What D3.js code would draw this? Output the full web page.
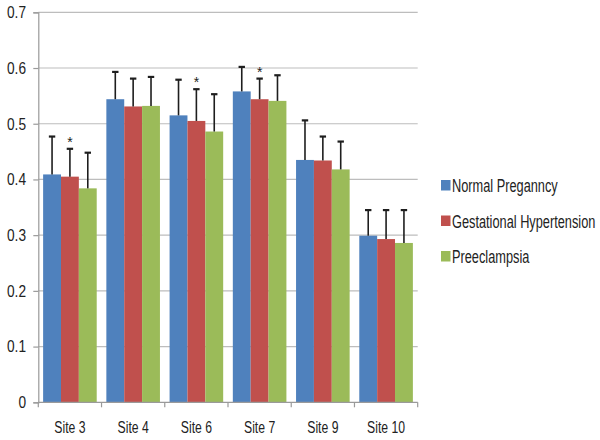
<!DOCTYPE html>
<html>
<head>
<meta charset="utf-8">
<script src="https://cdn.jsdelivr.net/npm/d3@7"></script>
<style>
html,body{margin:0;padding:0;background:#fff;}
svg text{font-family:"Liberation Sans","Arial",sans-serif;fill:#222;}
</style>
</head>
<body>
<svg id="chart" width="600" height="440"></svg>
<script>
const categories = ["Site 3","Site 4","Site 6","Site 7","Site 9","Site 10"];
const seriesNames = ["Normal Preganncy","Gestational Hypertension","Preeclampsia"];
const normalVals = [0.409,0.544,0.515,0.558,0.435,0.299];
const gestVals   = [0.405,0.531,0.505,0.544,0.434,0.293];
const preVals    = [0.384,0.532,0.486,0.541,0.418,0.286];
const normalErrTop = [0.477,0.593,0.579,0.602,0.506,0.345];
const gestErrTop   = [0.455,0.581,0.562,0.581,0.477,0.345];
const preErrTop    = [0.448,0.584,0.553,0.587,0.468,0.345];
const starred = ["Site 3","Site 6","Site 7"]; // asterisk above Gestational Hypertension
const yTicks = [0,0.1,0.2,0.3,0.4,0.5,0.6,0.7];
const colors = ["#4F81BD","#C0504D","#9BBB59"];

const values = [normalVals, gestVals, preVals];
const errTops = [normalErrTop, gestErrTop, preErrTop];

// condensed text placed at (px,py) via horizontal scaling
function ctext(g, px, py, str, size, f, anchor){
  return g.append("text")
    .attr("transform", `translate(${px},${py}) scale(${f},1)`)
    .attr("x",0).attr("y",0)
    .attr("font-size", size)
    .attr("text-anchor", anchor || "start")
    .text(str);
}

const svg = d3.select("#chart");
const mLeft = 38.3, mRight = 417.7, mTop = 12.3, mBottom = 402.3;

const x = d3.scaleBand().domain(categories).range([mLeft, mRight]).paddingInner(0).paddingOuter(0);
const inner = d3.scaleBand().domain(d3.range(3)).range([0, x.bandwidth()]).paddingInner(0).paddingOuter(0.27);
const y = d3.scaleLinear().domain([0,0.7]).range([mBottom, mTop]);

// gridlines
svg.append("g").selectAll("line").data(yTicks.filter(d=>d>0)).join("line")
  .attr("x1", mLeft).attr("x2", mRight)
  .attr("y1", d=>y(d)).attr("y2", d=>y(d))
  .attr("stroke", "#bdbdbd").attr("stroke-width", 1.2);

// y axis
const yAxis = svg.append("g").attr("transform", `translate(${mLeft},0)`)
  .call(d3.axisLeft(y).tickValues(yTicks).tickFormat("").tickSize(5));
yAxis.select(".domain").attr("stroke","#9a9a9a").attr("stroke-width",1.2);
yAxis.selectAll(".tick line").attr("stroke","#9a9a9a").attr("stroke-width",1.2);
yAxis.selectAll(".tick text").remove();
const yl = svg.append("g");
yTicks.forEach(t=>{
  ctext(yl, 26, y(t)+5.8, t===0 ? "0" : d3.format(".1f")(t), 16.3, 0.84, "end");
});

// bars
const barData = [];
categories.forEach((c,i)=>{
  for(let s=0;s<3;s++) barData.push({c, s, v: values[s][i], e: errTops[s][i]});
});
svg.append("g").selectAll("rect").data(barData).join("rect")
  .attr("x", d=>x(d.c)+inner(d.s))
  .attr("width", inner.bandwidth())
  .attr("y", d=>y(d.v))
  .attr("height", d=>y(0)-y(d.v))
  .attr("fill", d=>colors[d.s]);

// x axis
const xAxisG = svg.append("g").attr("transform", `translate(0,${mBottom})`);
xAxisG.append("line").attr("x1", mLeft).attr("x2", mRight).attr("y1",0).attr("y2",0)
  .attr("stroke","#9a9a9a").attr("stroke-width",1.2);
const boundaries = categories.map(c=>x(c)).concat([x(categories[categories.length-1])+x.bandwidth()]);
xAxisG.selectAll("line.tk").data(boundaries).join("line").attr("class","tk")
  .attr("x1", d=>d).attr("x2", d=>d).attr("y1",0).attr("y2",5)
  .attr("stroke","#9a9a9a").attr("stroke-width",1.2);
const xl = svg.append("g");
categories.forEach(c=>{
  ctext(xl, x(c)+x.bandwidth()/2, mBottom+31, c, 16.5, 0.74, "middle");
});

// error bars
const eg = svg.append("g").attr("stroke","#1e1e1e").attr("stroke-width",1.6);
barData.forEach(d=>{
  const cx = x(d.c)+inner(d.s)+inner.bandwidth()/2;
  eg.append("line").attr("x1",cx).attr("x2",cx).attr("y1",y(d.v)).attr("y2",y(d.e));
  eg.append("line").attr("x1",cx-3.2).attr("x2",cx+3.2).attr("y1",y(d.e)).attr("y2",y(d.e)).attr("stroke-width",2.2);
});

// asterisks
svg.append("g").selectAll("text").data(barData.filter(d=>d.s===1 && starred.includes(d.c))).join("text")
  .attr("x", d=>x(d.c)+inner(d.s)+inner.bandwidth()/2)
  .attr("y", d=>y(d.e)-2)
  .attr("text-anchor","middle").attr("font-size",14)
  .text("*");

// legend
const lg = svg.append("g").attr("transform","translate(441,0)");
const legY = [185.5, 221, 256.5];
seriesNames.forEach((n,i)=>{
  lg.append("rect").attr("x",0).attr("y",legY[i]-5.5).attr("width",9.5).attr("height",10.5).attr("fill",colors[i]);
  ctext(lg, 11, legY[i]+6.8, n, 17.5, 0.73, "start");
});
</script>
</body>
</html>
